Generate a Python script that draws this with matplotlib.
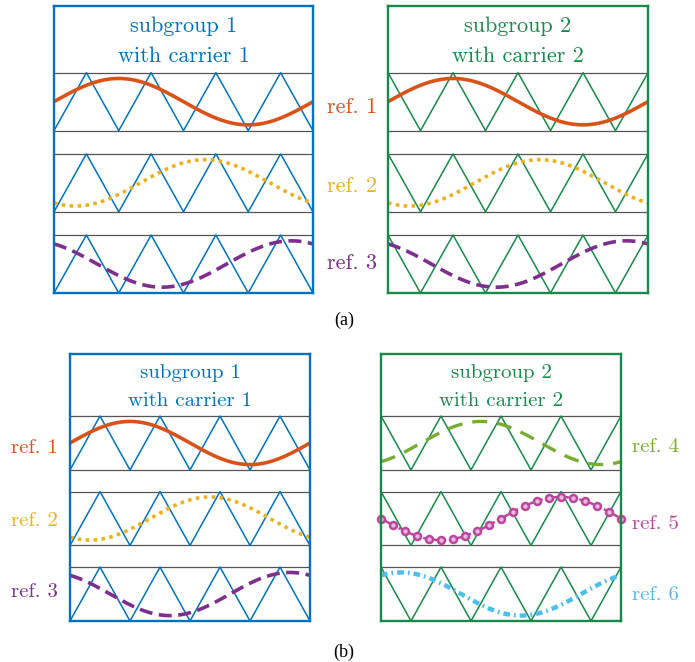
import numpy as np
import matplotlib.pyplot as plt

# references: name, phase (deg), colour
ref_names = ['ref. 1', 'ref. 2', 'ref. 3', 'ref. 4', 'ref. 5', 'ref. 6']
ref_phase = [0, -120, 120, -60, 180, 60]
ref_colors = ['#D95319', '#EDB120', '#7E2F8E', '#77AC30', '#B8479D', '#4DBEEE']
mod_index = 0.8

# carriers: number of periods over the box, start level (-1 bottom, +1 top)
carrier_periods = 4
carrier_start = [-1, 1]
carrier_colors = ['#0072BD', '#18894A']
subgroup_titles = ['subgroup 1\nwith carrier 1', 'subgroup 2\nwith carrier 2']

# which references go in which box, per panel
panel_refs = {'a': [[0, 1, 2], [0, 1, 2]],
              'b': [[0, 1, 2], [3, 4, 5]]}

W, H = 695, 662
fig = plt.figure(figsize=(W / 100, H / 100), dpi=100)


def box_rect(x0, y0, x1, y1):
    return [x0 / W, 1 - y1 / H, (x1 - x0) / W, (y1 - y0) / H]


def fig_xy(x, y):
    return x / W, 1 - y / H


strip_centers = [6.6, 3.8, 1.0]
ytop = 9.9

ref_styles = [
    dict(ls='-', lw=2.6),
    dict(ls=(0, (1, 1.2)), lw=2.6),
    dict(ls=(0, (3.6, 1.8)), lw=2.6),
    dict(ls=(0, (4.5, 3.0)), lw=2.4),
    dict(ls='-.', lw=1.8, marker='o', ms=5, mfc='#E9B8DC', mew=1.8),
    dict(ls=(0, (1.5, 0.9, 0.4, 0.9)), lw=3.2),
]


def draw_box(rect, group, refs, fsize):
    ax = fig.add_axes(rect)
    ax.set_xlim(0, 1)
    ax.set_ylim(0, ytop)
    ax.set_xticks([])
    ax.set_yticks([])
    for s in ax.spines.values():
        s.set_color(carrier_colors[group])
        s.set_linewidth(1.7)
        s.set_zorder(5)
    lines = subgroup_titles[group].split('\n')
    ax.text(0.5, 9.0, lines[0], ha='center', va='baseline', fontsize=fsize,
            family='cmr10', color=carrier_colors[group])
    ax.text(0.5, 7.97, lines[1], ha='center', va='baseline', fontsize=fsize,
            family='cmr10', color=carrier_colors[group])
    xc = np.linspace(0, 1, 2 * carrier_periods + 1)
    yc = carrier_start[group] * np.where(np.arange(len(xc)) % 2 == 0, 1, -1)
    x = np.linspace(0, 1, 400)
    for c, r in zip(strip_centers, refs):
        ax.hlines([c - 1, c + 1], 0, 1, color='#555555', lw=0.9)
        ax.plot(xc, c + yc, color=carrier_colors[group], lw=1.1)
        st = dict(ref_styles[r])
        y = c + mod_index * np.sin(2 * np.pi * x + np.deg2rad(ref_phase[r]))
        if 'marker' in st:
            ax.plot(x, y, color=ref_colors[r], ls=st['ls'], lw=st['lw'], clip_on=False, zorder=3)
            xm = np.linspace(0, 1, 21)
            ym = c + mod_index * np.sin(2 * np.pi * xm + np.deg2rad(ref_phase[r]))
            ax.plot(xm, ym, ls='none', marker='o', ms=st['ms'], mfc=st['mfc'],
                    mec=ref_colors[r], mew=st['mew'], clip_on=False, zorder=4)
        else:
            ax.plot(x, y, color=ref_colors[r], ls=st['ls'], lw=st['lw'], zorder=3)
    return ax


# panel (a)
draw_box(box_rect(54, 6, 313, 293), 0, panel_refs['a'][0], 16)
draw_box(box_rect(388, 6, 648, 293), 1, panel_refs['a'][1], 16)
for r, yb in zip([0, 1, 2], [113, 192, 269]):
    fig.text(*fig_xy(352, yb), ref_names[r], ha='center', va='baseline',
             fontsize=16, family='cmr10', color=ref_colors[r])
fig.text(*fig_xy(344, 320), '(a)', ha='center', va='center', fontsize=13,
         family='Liberation Serif')

# panel (b)
draw_box(box_rect(70, 354, 310, 621), 0, panel_refs['b'][0], 15)
draw_box(box_rect(381, 354, 621, 621), 1, panel_refs['b'][1], 15)
for r, yb in zip([0, 1, 2], [453, 526, 597]):
    fig.text(*fig_xy(34, yb), ref_names[r], ha='center', va='baseline',
             fontsize=15, family='cmr10', color=ref_colors[r])
for r, yb in zip([3, 4, 5], [452, 529, 600]):
    fig.text(*fig_xy(655, yb), ref_names[r], ha='center', va='baseline',
             fontsize=15, family='cmr10', color=ref_colors[r])
fig.text(*fig_xy(344, 652), '(b)', ha='center', va='center', fontsize=13,
         family='Liberation Serif')

fig.savefig('out.png', dpi=100)
